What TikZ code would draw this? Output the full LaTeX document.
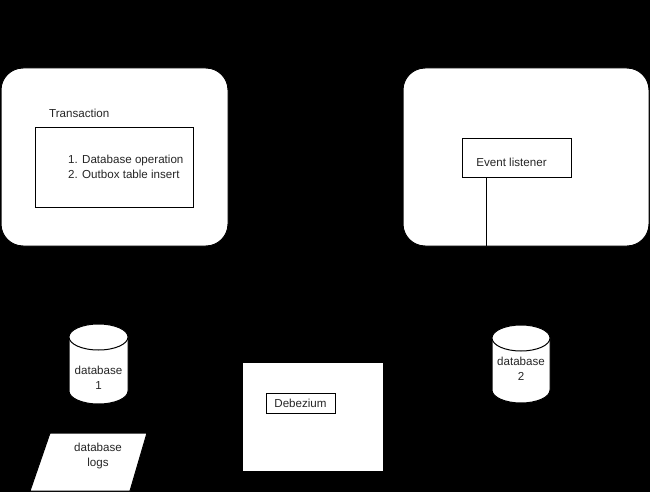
\documentclass[tikz,border=0pt]{standalone}
\usepackage{fontspec}
\setmainfont{Liberation Sans}
\begin{document}
\begin{tikzpicture}[x=1pt,y=-1pt,
  font=\fontsize{11.6}{15}\selectfont,
  container/.style={draw=black, fill=white, line width=1pt, rounded corners=22pt, inner sep=0pt},
  plainbox/.style={draw=black, fill=white, line width=1pt, inner sep=0pt},
  shapeline/.style={draw=black, fill=white, line width=1pt},
  txt/.style={inner sep=0pt, text=black!85, align=center}]
\fill[black] (0,0) rectangle (650,492);
\useasboundingbox (0,0) rectangle (650,492);

% left service
\node[container, minimum width=227pt, minimum height=178pt] (svcA) at (114.5,157) {};
\node[txt, anchor=west] (trlabel) at (49,113) {Transaction};
\node[plainbox, minimum width=158pt, minimum height=79pt] (trbox) at (114,167.5) {};
\node[txt, anchor=west, align=left] (trtext) at (68,166.5) {1. Database operation\\2. Outbox table insert};

% right service
\node[container, minimum width=246pt, minimum height=178pt] (svcB) at (526,157) {};
\node[plainbox, minimum width=109pt, minimum height=39pt] (evt) at (516.5,157.5) {};
\node[txt] (evttext) at (511.5,162) {Event listener};
\coordinate (evtfoot) at (486,246);
\draw[line width=1pt] (evt.south -| evtfoot) -- (evtfoot);

% database 1
\draw[shapeline] (69,337) -- (69,391) arc[start angle=180, end angle=0, x radius=29.5, y radius=13] -- (128,337);
\draw[shapeline] (98.5,337) ellipse[x radius=29.5, y radius=13];
\node[txt] (db1) at (98.5,378) {database\\1};

% database 2
\draw[shapeline] (492,338) -- (492,390) arc[start angle=180, end angle=0, x radius=29, y radius=13] -- (550,338);
\draw[shapeline] (521,338) ellipse[x radius=29, y radius=13];
\node[txt] (db2) at (521,368.5) {database\\2};

% database logs
\draw[shapeline] (50,433) -- (147,433) -- (130,491) -- (30,491) -- cycle;
\node[txt] (logs) at (98,456) {database\\logs};

% Debezium
\node[plainbox, minimum width=141pt, minimum height=109pt] (dbzbox) at (312.5,416.5) {};
\node[plainbox, minimum width=69pt, minimum height=20pt] (dbz) at (300.5,403) {};
\node[txt] (dbztext) at (300.5,403) {Debezium};
\end{tikzpicture}
\end{document}
